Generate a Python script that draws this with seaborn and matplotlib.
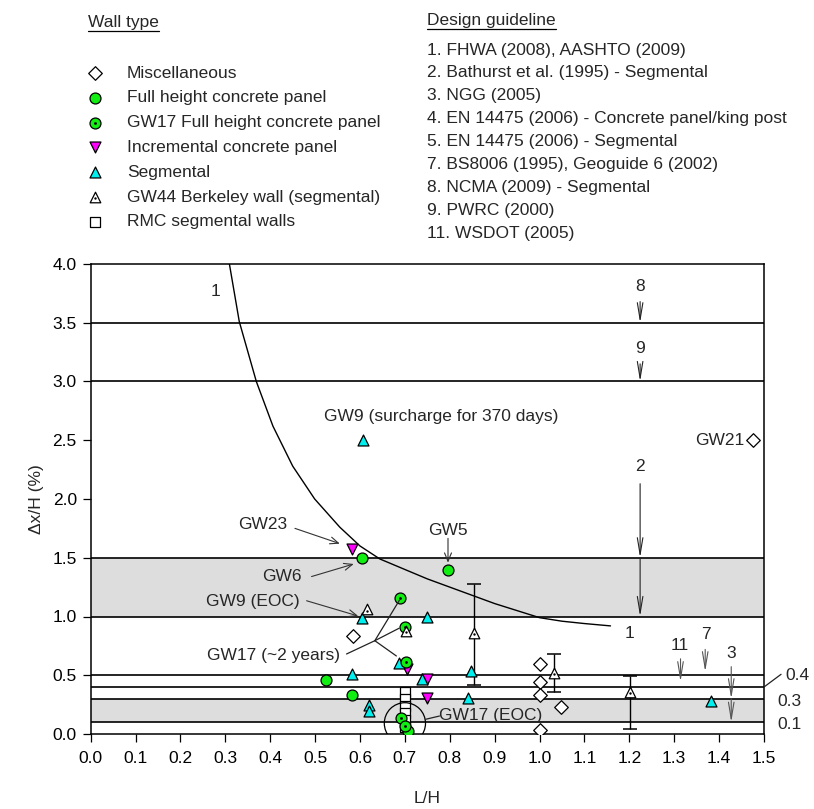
import numpy as np
import pandas as pd
import matplotlib
matplotlib.use("Agg")
import matplotlib.pyplot as plt
import seaborn as sns

# ---------------- data ----------------
misc_x = [0.584, 1.0, 1.0, 1.0, 1.0, 1.048, 1.475]
misc_y = [0.83, 0.60, 0.44, 0.335, 0.035, 0.23, 2.50]

full_x = [0.605, 0.795, 0.524, 0.583, 0.706]
full_y = [1.494, 1.40, 0.46, 0.335, 0.025]

gw17_x = [0.690, 0.700, 0.703, 0.691, 0.701]
gw17_y = [1.154, 0.914, 0.617, 0.137, 0.066]

incr_x = [0.582, 0.704, 0.749, 0.749]
incr_y = [1.577, 0.557, 0.465, 0.31]

seg_x = [0.607, 0.604, 0.749, 0.686, 0.583, 0.847, 0.737, 0.841, 0.620, 0.620, 1.383]
seg_y = [2.50, 0.99, 1.00, 0.605, 0.51, 0.54, 0.465, 0.31, 0.245, 0.20, 0.285]

gw44_x = [0.615, 0.702, 0.854, 1.032, 1.202]
gw44_y = [1.06, 0.88, 0.857, 0.518, 0.36]
gw44_lo = [np.nan, np.nan, 0.415, 0.356, 0.04]
gw44_hi = [np.nan, np.nan, 1.277, 0.677, 0.495]

rmc_x = [0.70, 0.70, 0.70, 0.70, 0.70, 0.70]
rmc_y = [0.36, 0.30, 0.24, 0.18, 0.12, 0.06]

# guideline 1 (FHWA/AASHTO) curve
curve_x = [0.309, 0.331, 0.369, 0.406, 0.45, 0.499, 0.555, 0.60, 0.644, 0.70,
           0.75, 0.80, 0.85, 0.90, 0.95, 1.00, 1.05, 1.10, 1.158]
curve_y = [4.0, 3.51, 3.0, 2.62, 2.28, 2.0, 1.76, 1.60, 1.49, 1.40,
           1.32, 1.25, 1.18, 1.11, 1.05, 0.99, 0.96, 0.94, 0.92]

limit_levels = [0.1, 0.3, 0.4, 0.5, 1.0, 1.5, 3.0, 3.5]
shaded_bands = [(0.1, 0.3), (1.0, 1.5)]

x_ticks = [round(0.1 * i, 1) for i in range(16)]
y_ticks = [0.0, 0.5, 1.0, 1.5, 2.0, 2.5, 3.0, 3.5, 4.0]

wall_types = ["Miscellaneous", "Full height concrete panel",
              "GW17 Full height concrete panel", "Incremental concrete panel",
              "Segmental", "GW44 Berkeley wall (segmental)", "RMC segmental walls"]
guidelines = ["1. FHWA (2008), AASHTO (2009)",
              "2. Bathurst et al. (1995) - Segmental",
              "3. NGG (2005)",
              "4. EN 14475 (2006) - Concrete panel/king post",
              "5. EN 14475 (2006) - Segmental",
              "7. BS8006 (1995), Geoguide 6 (2002)",
              "8. NCMA (2009) - Segmental",
              "9. PWRC (2000)",
              "11. WSDOT (2005)"]

# ---------------- style ----------------
sns.set_style("ticks")
plt.rcParams["font.family"] = ["Liberation Sans", "DejaVu Sans"]
FS = 12.5
GREEN = "#11ee11"
MAG = "#ff00ff"
CYAN = "#00f0f0"
EC = "black"
LW_M = 0.9
S_D = 48

W, H = 814, 809
fig = plt.figure(figsize=(W / 100, H / 100), dpi=100)
ax = fig.add_axes([90.7 / W, 1 - 734 / H, (764 - 90.7) / W, (734 - 264) / H])
ax.set_xlim(0, 1.5)
ax.set_ylim(0, 4.0)

for lo, hi in shaded_bands:
    ax.axhspan(lo, hi, color="#dddddd", lw=0, zorder=0)
for lv in limit_levels:
    ax.axhline(lv, color="black", lw=1.2, zorder=1)

sns.lineplot(x=curve_x, y=curve_y, ax=ax, color="black", lw=1.0, sort=False,
             estimator=None, zorder=2)

# error bars of GW44
lo = np.array(gw44_lo); hi = np.array(gw44_hi); yy = np.array(gw44_y)
m = ~np.isnan(lo)
ax.errorbar(np.array(gw44_x)[m], yy[m], yerr=[yy[m] - lo[m], hi[m] - yy[m]],
            fmt="none", ecolor="black", elinewidth=1.0, capsize=4.7, capthick=1.1, zorder=3)

def sc(x, y, marker, face, s, z=5, lw=LW_M):
    sns.scatterplot(x=x, y=y, marker=marker, color=face, edgecolor=EC, s=s,
                    linewidth=lw, ax=ax, zorder=z, legend=False)

sc(rmc_x, rmc_y, "s", "white", 50, z=4)
sc(misc_x, misc_y, "D", "white", S_D)
sc(full_x, full_y, "o", GREEN, 62)
sc(gw17_x, gw17_y, "o", GREEN, 62, z=6)
sns.scatterplot(x=gw17_x, y=gw17_y, marker="o", color="black", s=4, linewidth=0,
                ax=ax, zorder=7, legend=False)
sc(incr_x, incr_y, "v", MAG, 62)
sc(seg_x, seg_y, "^", CYAN, 62)
sc(gw44_x, gw44_y, "^", "white", 58, z=6)
sns.scatterplot(x=gw44_x, y=np.array(gw44_y) - 0.01, marker="o", color="black", s=3,
                linewidth=0, ax=ax, zorder=7, legend=False)

# big circle around GW17 (EOC)
ax.scatter([0.700], [0.091], s=880, facecolors="none", edgecolors="black", lw=0.9, zorder=8)

# ---------------- annotations ----------------
def txt(x, y, s, ha="center", va="center"):
    ax.text(x, y, s, ha=ha, va=va, fontsize=FS, zorder=9, clip_on=False)

def arrow(x0, y0, x1, y1, hl=0.6, hw=0.25, color="#333333"):
    ax.annotate("", xy=(x1, y1), xytext=(x0, y0),
                arrowprops=dict(arrowstyle=f"->,head_length={hl},head_width={hw}",
                                color=color, lw=0.8, shrinkA=0, shrinkB=0,
                                mutation_scale=10), zorder=9, annotation_clip=False)

def seg(xs, ys):
    ax.plot(xs, ys, color="#222222", lw=0.9, zorder=9, clip_on=False)

txt(0.277, 3.77, "1")
txt(1.20, 0.857, "1")
txt(1.224, 3.81, "8"); arrow(1.224, 3.68, 1.224, 3.5, 1.2, 0.2, "#222222")
txt(1.224, 3.28, "9"); arrow(1.224, 3.15, 1.224, 3.0, 1.2, 0.2, "#222222")
txt(1.224, 2.275, "2"); arrow(1.224, 2.13, 1.224, 1.5, 1.2, 0.2, "#222222"); arrow(1.224, 1.5, 1.224, 1.0, 1.2, 0.2, "#222222")
txt(1.312, 0.75, "11"); arrow(1.314, 0.64, 1.314, 0.445, 1.2, 0.2, "#555555")
txt(1.371, 0.843, "7"); arrow(1.369, 0.72, 1.369, 0.53, 1.2, 0.2, "#555555")
txt(1.427, 0.687, "3"); arrow(1.427, 0.573, 1.427, 0.30, 1.2, 0.2, "#555555"); arrow(1.427, 0.30, 1.427, 0.10, 1.2, 0.2, "#555555")

txt(1.574, 0.502, "0.4")
seg([1.5, 1.538], [0.4, 0.508])
txt(1.556, 0.275, "0.3")
txt(1.556, 0.077, "0.1")

txt(0.519, 2.70, "GW9 (surcharge for 370 days)", ha="left")
txt(1.456, 2.50, "GW21", ha="right")
txt(0.383, 1.78, "GW23"); arrow(0.455, 1.75, 0.555, 1.62)
txt(0.425, 1.339, "GW6"); arrow(0.492, 1.34, 0.586, 1.447)
txt(0.796, 1.736, "GW5"); arrow(0.796, 1.665, 0.796, 1.458)
txt(0.362, 1.126, "GW9 (EOC)"); arrow(0.481, 1.134, 0.596, 1.004)
txt(0.555, 0.666, "GW17 (~2 years)", ha="right")
seg([0.570, 0.633], [0.681, 0.794])
seg([0.633, 0.688], [0.794, 1.14])
seg([0.633, 0.687], [0.794, 0.90])
seg([0.633, 0.681], [0.794, 0.664])
txt(0.777, 0.16, "GW17 (EOC)", ha="left")
seg([0.746, 0.777], [0.125, 0.153])

# ---------------- axes styling ----------------
ax.set_xticks(x_ticks)
ax.set_xticklabels([f"{v:.1f}" for v in x_ticks])
ax.set_yticks(y_ticks)
ax.set_yticklabels([f"{v:.1f}" for v in y_ticks])
ax.tick_params(axis="both", direction="out", length=6, width=0.9, labelsize=FS, colors="black")
ax.tick_params(axis="x", pad=6)
ax.tick_params(axis="y", pad=4)
for sp in ax.spines.values():
    sp.set_visible(True)
    sp.set_linewidth(1.1)
    sp.set_color("black")
ax.set_xlabel("L/H", fontsize=FS, labelpad=18)
ax.set_ylabel("Δx/H (%)", fontsize=FS, labelpad=6)
ax.set_facecolor("white")

# ---------------- legend block (top) ----------------
lax = fig.add_axes([0, 0, 1, 1], zorder=-1)
lax.set_xlim(0, W); lax.set_ylim(H, 0); lax.axis("off")

h1 = lax.text(88, 22, "Wall type", fontsize=FS, va="center", ha="left")
h2 = lax.text(427, 20, "Design guideline", fontsize=FS, va="center", ha="left")

leg_styles = [("D", "white", S_D), ("o", GREEN, 62), ("o", GREEN, 62), ("v", MAG, 62),
              ("^", CYAN, 62), ("^", "white", 58), ("s", "white", 50)]
for i, (lab, (mk, fc, s)) in enumerate(zip(wall_types, leg_styles)):
    yy_ = 73 + i * 24.8
    lax.scatter([95], [yy_], marker=mk, s=s, facecolor=fc, edgecolor=EC, lw=LW_M)
    if i == 2:
        lax.scatter([95], [yy_], marker="o", s=4, color="black", lw=0)
    if i == 5:
        lax.scatter([95], [yy_ + 1], marker="o", s=3, color="black", lw=0)
    lax.text(127, yy_, lab, fontsize=FS, va="center", ha="left")

for i, g in enumerate(guidelines):
    lax.text(427, 50 + i * 22.9, g, fontsize=FS, va="center", ha="left")

fig.canvas.draw()
r = fig.canvas.get_renderer()
inv = lax.transData.inverted()
for h in (h1, h2):
    bb = h.get_window_extent(renderer=r)
    (x0, y0), (x1, y1) = inv.transform([[bb.x0, bb.y0], [bb.x1, bb.y1]])
    lax.plot([x0, x1], [y0 + 1.5, y0 + 1.5], color="black", lw=0.9)

fig.savefig("out.png", dpi=100, facecolor="white")
